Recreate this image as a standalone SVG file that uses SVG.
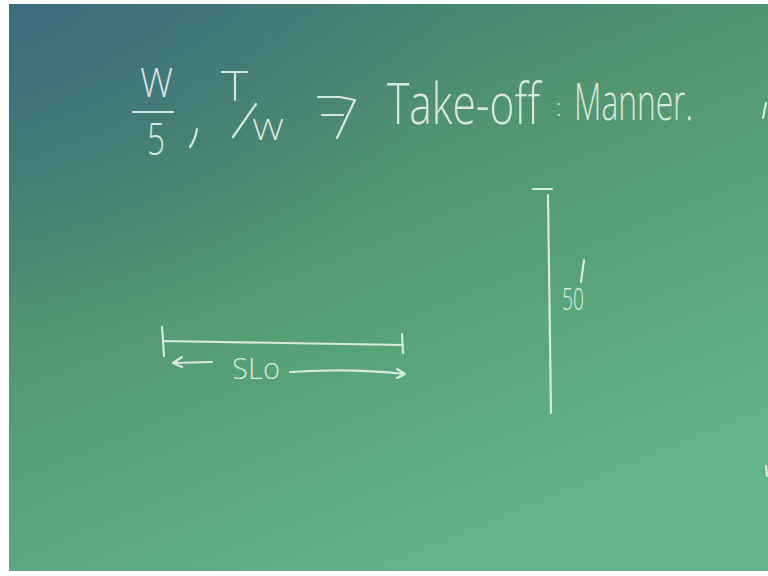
<svg xmlns="http://www.w3.org/2000/svg" width="768" height="576" viewBox="0 0 768 576">
  <defs>
    <linearGradient id="board" x1="0" y1="0" x2="0.55" y2="1">
      <stop offset="0" stop-color="#3e7479"/>
      <stop offset="0.45" stop-color="#52966f"/>
      <stop offset="1" stop-color="#62b587"/>
    </linearGradient>
    <radialGradient id="tl" cx="0" cy="0" r="0.6">
      <stop offset="0" stop-color="#3a6a80" stop-opacity="0.6"/>
      <stop offset="1" stop-color="#3a6a80" stop-opacity="0"/>
    </radialGradient>
    <style>
      .chalk { fill: none; stroke: #e6f1e8; stroke-width: 2.2; stroke-linecap: round; stroke-linejoin: round; opacity: 0.9; }
      .ctext { fill: #e6f1e8; font-family: "Open Sans", "Liberation Sans", sans-serif; font-weight: 300; opacity: 0.9; }
    </style>
  </defs>
  <rect x="0" y="0" width="768" height="576" fill="#ffffff"/>
  <rect x="9" y="4" width="759" height="567" fill="url(#board)"/>
  <rect x="9" y="4" width="759" height="567" fill="url(#tl)"/>

  <g id="heading">
    <text class="ctext" x="140" y="97" font-size="40" textLength="33" lengthAdjust="spacingAndGlyphs">W</text>
    <path class="chalk" d="M133 112 L173 112"/>
    <text class="ctext" x="147" y="155" font-size="44" textLength="18" lengthAdjust="spacingAndGlyphs">5</text>
    <path class="chalk" d="M197 129 Q195 140 190 147"/>
    <path class="chalk" d="M222 72 L247 72 M235 72 L235 100 M233 137 L256 104"/>
    <text class="ctext" x="252" y="140" font-size="30" textLength="32" lengthAdjust="spacingAndGlyphs">W</text>
    <path class="chalk" d="M318 97 L340 97 L355 100 L337 138 M322 115 L343 115"/>
    <text class="ctext" font-size="44" transform="translate(387 124) scale(1 1.3)" x="0" y="0" textLength="153" lengthAdjust="spacingAndGlyphs">Take-off</text>
    <text class="ctext" x="556" y="116" font-size="24">:</text>
    <text class="ctext" font-size="34" transform="translate(574 120) scale(1 1.5)" x="0" y="0" textLength="119" lengthAdjust="spacingAndGlyphs">Manner.</text>
  </g>

  <g id="runway">
    <path class="chalk" d="M162 327 L164 356 M164 341 Q280 343 403 345 M402 334 L403 353"/>
  </g>

  <g id="height-bar">
    <path class="chalk" d="M533 189 L552 189 M548 195 Q549 300 551 413"/>
  </g>

  <g id="connectors">
    <path class="chalk" d="M212 362 L173 363 M182 357 L173 363 L182 367"/>
    <path class="chalk" d="M290 372 Q350 368 405 374 M397 369 L405 374 L397 378"/>
  </g>

  <g id="label-slo">
    <text class="ctext" x="232" y="379" font-size="30" textLength="48" lengthAdjust="spacingAndGlyphs">SLo</text>
  </g>

  <g id="label-50">
    <text class="ctext" x="562" y="310" font-size="32" textLength="22" lengthAdjust="spacingAndGlyphs">50</text>
    <path class="chalk" d="M584 260 L581 282"/>
  </g>

  <g id="edge-marks">
    <path class="chalk" d="M766 103 L763 118"/>
    <path class="chalk" d="M766 466 L767 476"/>
  </g>
</svg>
